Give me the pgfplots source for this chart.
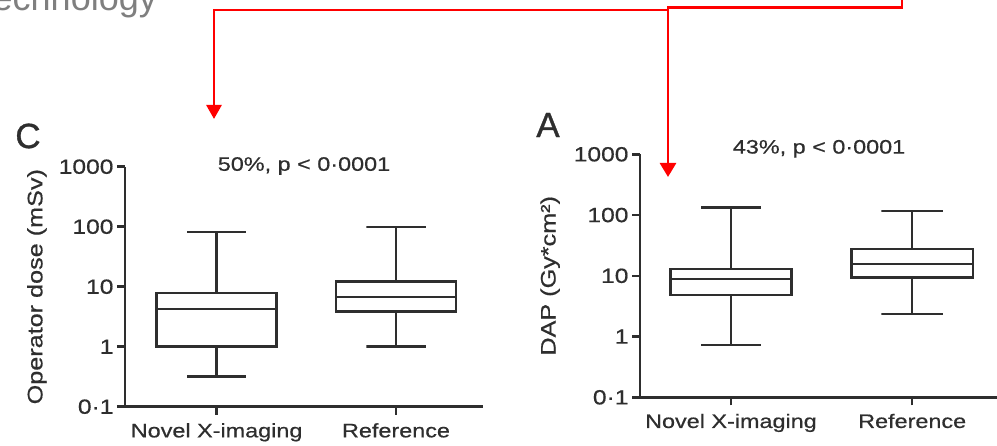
\documentclass[border=0pt]{standalone}
\usepackage{fontspec}
\setmainfont[FakeStretch=1.2,FakeBold=0.6]{Liberation Sans}
\newfontfamily\plainsans[FakeBold=1]{Liberation Sans}
\usepackage{pgfplots}
\pgfplotsset{compat=1.18}
\usetikzlibrary{arrows.meta}

\definecolor{ink}{HTML}{2E2E2E}
\definecolor{arrowred}{HTML}{FF0000}
\definecolor{headgray}{HTML}{7F7F7F}

\tikzset{doseline/.style={draw=ink, line width=2.5pt, solid, mark=none, line join=miter}}

\begin{document}
\begin{tikzpicture}
\useasboundingbox (0pt,0pt) rectangle (997pt,445pt);

% panel C: operator dose
\begin{axis}[ymode=log, scale only axis, at={(125pt,38.3pt)}, anchor=south west,
    width=358pt, height=240pt, xmin=-0.511, xmax=1.485, ymin=0.1, ymax=1000,
    ytick={0.1,1,10,100,1000}, yticklabels={0·1,1,10,100,1000},
    yminorticks=false,
    xtick={0,1}, xticklabels={Novel X-imaging,Reference},
    axis x line*=bottom, axis y line*=left,
    axis line style={ink, line width=2.5pt},
    tick align=outside, major tick length=8pt,
    tick style={ink, line width=2.5pt},
    yticklabel style={font=\fontsize{20.5}{23}\selectfont, text=ink},
    xticklabel style={font=\fontsize{19.5}{22}\selectfont, text=ink, yshift=-5pt},
    label style={font=\fontsize{21}{24}\selectfont, text=ink},
    enlargelimits=false, clip=false,
    ylabel={Operator dose (mSv)},
    ylabel style={at={(axis description cs:-0.246,0.5)}, anchor=center},
    title={50\%, p < 0·0001},
    title style={font=\fontsize{19.5}{22}\selectfont, text=ink, anchor=center,
      at={(axis description cs:0.5,0.978)}}]
% Novel X-imaging: whiskers 0.32 / 82, quartiles 1.0 / 7.9, median 4.25
\addplot[doseline] coordinates {(0,1.0) (0.335,1.0) (0.335,7.9) (-0.335,7.9) (-0.335,1.0) (0,1.0)};
\addplot[doseline] coordinates {(-0.335,4.25) (0.335,4.25)};
\addplot[doseline] coordinates {(0,7.9) (0,82) (-0.165,82) (0.165,82)};
\addplot[doseline] coordinates {(0,1.0) (0,0.32) (-0.165,0.32) (0.165,0.32)};
% Reference: whiskers 1.0 / 98, quartiles 3.83 / 12.1, median 6.8
\addplot[doseline] coordinates {(1,3.83) (1.335,3.83) (1.335,12.1) (0.665,12.1) (0.665,3.83) (1,3.83)};
\addplot[doseline] coordinates {(0.665,6.8) (1.335,6.8)};
\addplot[doseline] coordinates {(1,12.1) (1,98) (0.835,98) (1.165,98)};
\addplot[doseline] coordinates {(1,3.83) (1,1.0) (0.835,1.0) (1.165,1.0)};
\end{axis}

% panel A: DAP
\begin{axis}[ymode=log, scale only axis, at={(640pt,47.7pt)}, anchor=south west,
    width=361pt, height=243pt, xmin=-0.502, xmax=1.49, ymin=0.1, ymax=1000,
    ytick={0.1,1,10,100,1000}, yticklabels={0·1,1,10,100,1000},
    yminorticks=false,
    xtick={0,1}, xticklabels={Novel X-imaging,Reference},
    axis x line*=bottom, axis y line*=left,
    axis line style={ink, line width=2.5pt},
    tick align=outside, major tick length=8pt,
    tick style={ink, line width=2.5pt},
    yticklabel style={font=\fontsize{20.5}{23}\selectfont, text=ink},
    xticklabel style={font=\fontsize{19.5}{22}\selectfont, text=ink, yshift=-5pt},
    label style={font=\fontsize{21}{24}\selectfont, text=ink},
    enlargelimits=false, clip=false,
    ylabel={DAP (Gy*cm²)},
    ylabel style={at={(axis description cs:-0.249,0.5)}, anchor=center},
    title={43\%, p < 0·0001},
    title style={font=\fontsize{19.5}{22}\selectfont, text=ink, anchor=center,
      at={(axis description cs:0.496,0.998)}}]
% Novel X-imaging: whiskers 0.73 / 134, quartiles 4.83 / 12.9, median 8.86
\addplot[doseline] coordinates {(0,4.83) (0.335,4.83) (0.335,12.9) (-0.335,12.9) (-0.335,4.83) (0,4.83)};
\addplot[doseline] coordinates {(-0.335,8.86) (0.335,8.86)};
\addplot[doseline] coordinates {(0,12.9) (0,134) (-0.165,134) (0.165,134)};
\addplot[doseline] coordinates {(0,4.83) (0,0.73) (-0.165,0.73) (0.165,0.73)};
% Reference: whiskers 2.35 / 117, quartiles 9.3 / 27.6, median 15.5
\addplot[doseline] coordinates {(1,9.3) (1.335,9.3) (1.335,27.6) (0.665,27.6) (0.665,9.3) (1,9.3)};
\addplot[doseline] coordinates {(0.665,15.5) (1.335,15.5)};
\addplot[doseline] coordinates {(1,27.6) (1,117) (0.83,117) (1.17,117)};
\addplot[doseline] coordinates {(1,9.3) (1,2.35) (0.83,2.35) (1.17,2.35)};
\end{axis}

\node[font=\plainsans\fontsize{35}{40}\selectfont, text=ink] at (28pt,309pt) {C};
\node[font=\plainsans\fontsize{35}{40}\selectfont, text=ink] at (548pt,320pt) {A};
\node[anchor=base east, font=\fontspec{Liberation Sans}\fontsize{36}{40}\selectfont,
    text=headgray, inner sep=0pt] at (157pt,434pt) {Technology};

\draw[arrowred, line width=2.7pt, -{Triangle[width=16pt,length=14pt]}]
  (902pt,447pt) -- (902pt,437.7pt) -- (668pt,437.7pt) -- (668pt,268pt);
\draw[arrowred, line width=2.7pt, -{Triangle[width=15pt,length=14pt]}]
  (668pt,435pt) -- (214pt,435pt) -- (214pt,326pt);
\end{tikzpicture}
\end{document}
